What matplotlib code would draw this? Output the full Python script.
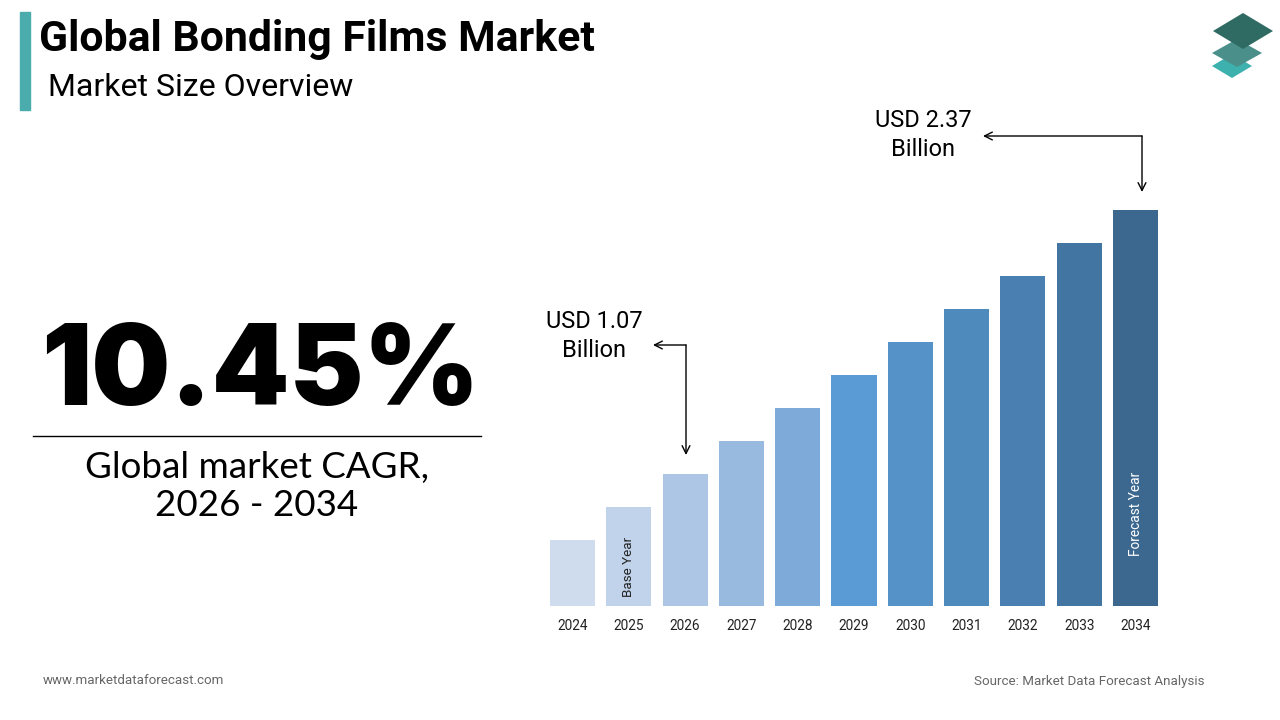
import matplotlib
matplotlib.use('Agg')
import matplotlib.pyplot as plt
from matplotlib.patches import Polygon, Rectangle, FancyArrowPatch
from matplotlib.lines import Line2D

# data (bar heights in chart units, decorative scale)
years = ['2024', '2025', '2026', '2027', '2028', '2029',
         '2030', '2031', '2032', '2033', '2034']
heights = [2, 3, 4, 5, 6, 7, 8, 9, 10, 11, 12]
bar_colors = ['#cfdcee', '#c0d3ea', '#adc6e5', '#98badf', '#7eaad9', '#5b9bd5',
              '#5592c8', '#4f8abd', '#4a80b1', '#4275a2', '#3c6890']
cagr_text = '10.45%'
cagr_label = 'Global market CAGR,\n2026 - 2034'
start_label = 'USD 1.07\nBillion'
end_label = 'USD 2.37\nBillion'

W, H = 1280, 720
fig = plt.figure(figsize=(12.8, 7.2), dpi=100)
fig.patch.set_facecolor('white')


def fx(px):
    return px / W


def fy(py):
    # py counted from the top of the picture
    return 1 - py / H


# 标题部分
fig.patches.append(Rectangle((fx(20), fy(110)), fx(10), 98 / H,
                             transform=fig.transFigure, color='#4aacac'))
fig.text(fx(39), fy(40), 'Global Bonding Films Market', family='Roboto',
         weight='bold', fontsize=30.8, va='center', ha='left', color='black')
fig.text(fx(48), fy(88), 'Market Size Overview', family='Roboto',
         fontsize=23, va='center', ha='left', color='black')

# logo
for cx, cy, hw, hh, col in [(1232, 66, 20, 12, '#3cb1ad'),
                            (1237, 53, 25, 14, '#4a8f8a'),
                            (1243, 31, 30, 18, '#2f6b63')]:
    pts = [(fx(cx - hw), fy(cy)), (fx(cx), fy(cy - hh)),
           (fx(cx + hw), fy(cy)), (fx(cx), fy(cy + hh))]
    fig.patches.append(Polygon(pts, closed=True, transform=fig.transFigure,
                               facecolor=col, edgecolor='none'))

# CAGR 大字
fig.text(fx(260), fy(375), cagr_text, family=['Inter', 'Lato'], weight='black',
         fontsize=80, ha='center', va='center', color='black')
fig.lines.append(Line2D([fx(33), fx(481)], [fy(436), fy(436)],
                        transform=fig.transFigure, color='black', lw=1))
fig.text(fx(257), fy(486.5), cagr_label, family='Lato', fontsize=26.5,
         ha='center', va='center', color='black', linespacing=1.2)

# 柱状图
ax = fig.add_axes([fx(544.3), fy(606), (1163.7 - 544.3) / W, 396 / H])
x = list(range(len(years)))
ax.bar(x, heights, width=0.8, color=bar_colors)
ax.set_xlim(-0.5, len(years) - 0.5)
ax.set_ylim(0, 12)
ax.set_xticks(x)
ax.set_xticklabels(years, family='Roboto', fontsize=9.8, color='#222222')
ax.tick_params(axis='x', length=0, pad=9.5)
ax.set_yticks([])
for s in ax.spines.values():
    s.set_visible(False)
ax.patch.set_alpha(0)

ax.text(1, 0.27, 'Base Year', rotation=90, ha='center', va='bottom',
        family='Roboto', fontsize=9.6, color='#222222')
ax.text(10, 1.5, 'Forecast Year', rotation=90, ha='center', va='bottom',
        family='Roboto', fontsize=9.8, color='white')

# 标注文字和箭头
fig.text(fx(594), fy(336), start_label, family='Roboto', fontsize=17,
         ha='center', va='center', color='black', linespacing=1.35)
fig.text(fx(923), fy(135), end_label, family='Roboto', fontsize=17,
         ha='center', va='center', color='black', linespacing=1.35)

arrow = dict(arrowstyle='->', color='black', lw=1, shrinkA=0, shrinkB=0,
             mutation_scale=14)
for corner, left, bottom in [((686, 345), 653, 455), ((1142, 136), 983, 192)]:
    cxp, cyp = corner
    fig.add_artist(FancyArrowPatch((fx(cxp), fy(cyp)), (fx(left), fy(cyp)),
                                   transform=fig.transFigure, **arrow))
    fig.add_artist(FancyArrowPatch((fx(cxp), fy(cyp)), (fx(cxp), fy(bottom)),
                                   transform=fig.transFigure, **arrow))

# 页脚
fig.text(fx(43), fy(681), 'www.marketdataforecast.com', family='Roboto',
         fontsize=9.6, ha='left', va='center', color='#666666')
fig.text(fx(1204), fy(681), 'Source: Market Data Forecast Analysis',
         family='Roboto', fontsize=9.6, ha='right', va='center', color='#666666')

plt.savefig('out.png', dpi=100)
plt.close(fig)
